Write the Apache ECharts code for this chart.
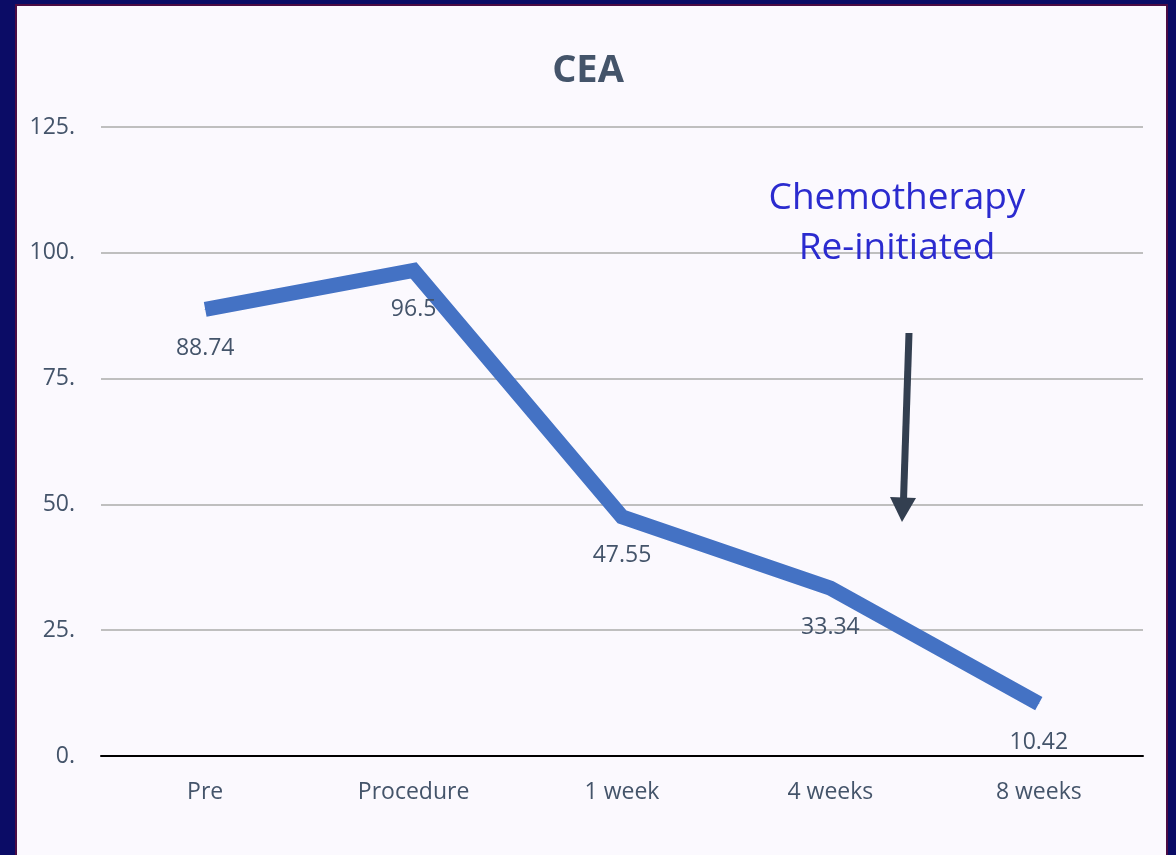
<!DOCTYPE html>
<html>
<head>
<meta charset="utf-8">
<script src="https://cdn.jsdelivr.net/npm/echarts@6/dist/echarts.min.js"></script>
<style>
  html, body { margin: 0; padding: 0; width: 1176px; height: 855px; overflow: hidden; background: #0b0c66; }
  #panel { position: absolute; left: 15px; top: 4px; width: 1149px; height: 860px; background: #fbf9fe; border: 2px solid #4c0c44; }
  #chart { position: absolute; left: 0; top: 0; width: 1176px; height: 855px; }
</style>
</head>
<body>
<div id="panel"></div>
<div id="chart"></div>
<script>
const categories = ['Pre', 'Procedure', '1 week', '4 weeks', '8 weeks'];
const ceaValues = [88.74, 96.5, 47.55, 33.34, 10.42];
const yTicks = [0, 25, 50, 75, 100, 125];
const titleText = 'CEA';
const annotationText = 'Chemotherapy\nRe-initiated';

const chart = echarts.init(document.getElementById('chart'), null, { renderer: 'canvas' });
const textColor = '#44546a';
const font = '"Open Sans", "Noto Sans", sans-serif';

chart.setOption({
  backgroundColor: 'transparent',
  animation: false,
  title: {
    text: titleText,
    left: 'center',
    top: 47,
    textStyle: { fontFamily: font, fontSize: 38, fontWeight: 'bold', color: textColor }
  },
  grid: { left: 101, right: 33, top: 127, bottom: 99, containLabel: false },
  xAxis: {
    type: 'category',
    data: categories,
    boundaryGap: true,
    axisLine: { lineStyle: { color: '#000000', width: 2 } },
    axisTick: { show: false },
    axisLabel: { margin: 25, fontFamily: font, fontSize: 23, color: textColor }
  },
  yAxis: {
    type: 'value',
    min: yTicks[0],
    max: yTicks[yTicks.length - 1],
    interval: yTicks[1] - yTicks[0],
    axisLine: { show: false },
    axisTick: { show: false },
    splitLine: { lineStyle: { color: '#bfbfbf', width: 2 } },
    axisLabel: { margin: 26, fontFamily: font, fontSize: 23, color: textColor, formatter: v => v + '.' }
  },
  series: [{
    type: 'line',
    data: ceaValues,
    showSymbol: true,
    symbol: 'circle',
    symbolSize: 1,
    itemStyle: { color: '#4472c4' },
    lineStyle: { color: '#4472c4', width: 15, join: 'miter', cap: 'butt' },
    label: {
      show: true,
      position: 'bottom',
      distance: 27,
      fontFamily: font,
      fontSize: 23,
      color: textColor
    }
  }],
  graphic: [
    {
      type: 'text',
      left: 897 - 130,
      top: 173,
      style: {
        text: annotationText,
        fontFamily: font,
        fontSize: 37,
        lineHeight: 50,
        fill: '#2b2bcf',
        textAlign: 'center',
        width: 260
      },
      z: 10
    },
    {
      type: 'line',
      shape: { x1: 909, y1: 333, x2: 903.5, y2: 500 },
      style: { stroke: '#333f50', lineWidth: 7 },
      z: 10
    },
    {
      type: 'polygon',
      shape: { points: [[890, 497], [916, 498], [902, 522]] },
      style: { fill: '#333f50' },
      z: 10
    }
  ]
});
</script>
</body>
</html>
